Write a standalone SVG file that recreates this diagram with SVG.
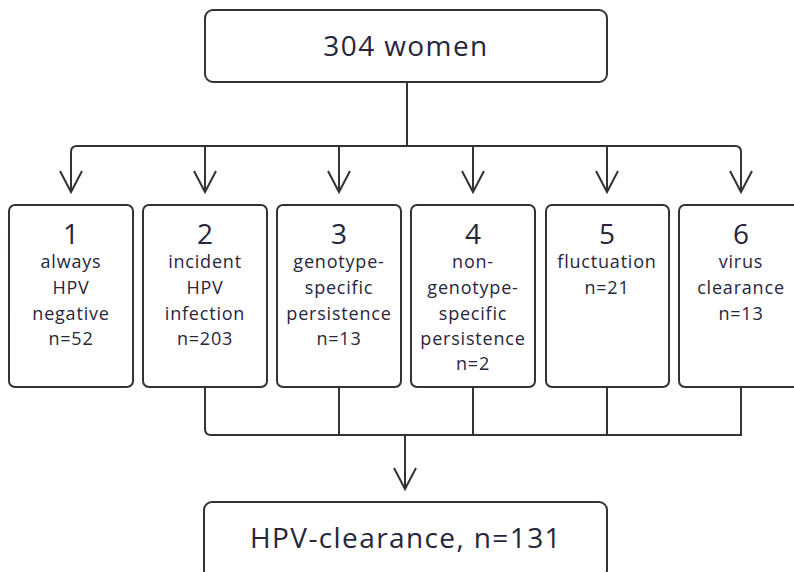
<svg xmlns="http://www.w3.org/2000/svg" width="794" height="572" viewBox="0 0 794 572">
<defs>
<style>
.box{fill:#fff;stroke:#333;stroke-width:2}
.ln{fill:none;stroke:#333;stroke-width:2}
.ah{fill:none;stroke:#333;stroke-width:2;stroke-linejoin:miter}
text{font-family:"Open Sans","DejaVu Sans",sans-serif;fill:#26263c;text-anchor:middle}
.num{font-size:28px}
.lbl{font-size:18px;letter-spacing:0.8px;font-weight:500}
.big{font-size:28px;letter-spacing:1.4px}
</style>
</defs>
<g id="connectors">
<path class="ln" d="M407 82 V146"/>
<path class="ln" d="M71 191 V152 Q71 146 77 146 H735 Q741 146 741 152 V191"/>
<path class="ln" d="M205 146 V191 M339 146 V191 M473 146 V191 M607 146 V191"/>
<path class="ah" d="M60 171 L71 192 L82 171 M194 171 L205 192 L216 171 M328 171 L339 192 L350 171 M462 171 L473 192 L484 171 M596 171 L607 192 L618 171 M730 171 L741 192 L752 171"/>
<path class="ln" d="M205 387 V429 Q205 435 211 435 H741 V387"/>
<path class="ln" d="M339 387 V435 M473 387 V435 M607 387 V435"/>
<path class="ln" d="M405 435 V489"/>
<path class="ah" d="M394 468 L405 489 L416 468"/>
</g>
<g id="top">
<rect class="box" x="205" y="10" width="402" height="72" rx="8"/>
<text class="big" x="406" y="56">304 women</text>
</g>
<g id="n1">
<rect class="box" x="9" y="205" width="124" height="182" rx="6"/>
<text class="num" x="71" y="244">1</text>
<text class="lbl" x="71" y="268">always</text>
<text class="lbl" x="71" y="294">HPV</text>
<text class="lbl" x="71" y="320">negative</text>
<text class="lbl" x="71" y="345">n=52</text>
</g>
<g id="n2">
<rect class="box" x="143" y="205" width="124" height="182" rx="6"/>
<text class="num" x="205" y="244">2</text>
<text class="lbl" x="205" y="268">incident</text>
<text class="lbl" x="205" y="294">HPV</text>
<text class="lbl" x="205" y="320">infection</text>
<text class="lbl" x="205" y="345">n=203</text>
</g>
<g id="n3">
<rect class="box" x="277" y="205" width="124" height="182" rx="6"/>
<text class="num" x="339" y="244">3</text>
<text class="lbl" x="339" y="268">genotype-</text>
<text class="lbl" x="339" y="294">specific</text>
<text class="lbl" x="339" y="320">persistence</text>
<text class="lbl" x="339" y="345">n=13</text>
</g>
<g id="n4">
<rect class="box" x="411" y="205" width="124" height="182" rx="6"/>
<text class="num" x="473" y="244">4</text>
<text class="lbl" x="473" y="268">non-</text>
<text class="lbl" x="473" y="294">genotype-</text>
<text class="lbl" x="473" y="320">specific</text>
<text class="lbl" x="473" y="345">persistence</text>
<text class="lbl" x="473" y="370">n=2</text>
</g>
<g id="n5">
<rect class="box" x="546" y="205" width="123" height="182" rx="6"/>
<text class="num" x="607" y="244">5</text>
<text class="lbl" x="607" y="268">fluctuation</text>
<text class="lbl" x="607" y="294">n=21</text>
</g>
<g id="n6">
<rect class="box" x="679" y="205" width="124" height="182" rx="6"/>
<text class="num" x="741" y="244">6</text>
<text class="lbl" x="741" y="268">virus</text>
<text class="lbl" x="741" y="294">clearance</text>
<text class="lbl" x="741" y="320">n=13</text>
</g>
<g id="bottom">
<rect class="box" x="204" y="502" width="403" height="76" rx="8"/>
<text class="big" x="406" y="548">HPV-clearance, n=131</text>
</g>
</svg>
